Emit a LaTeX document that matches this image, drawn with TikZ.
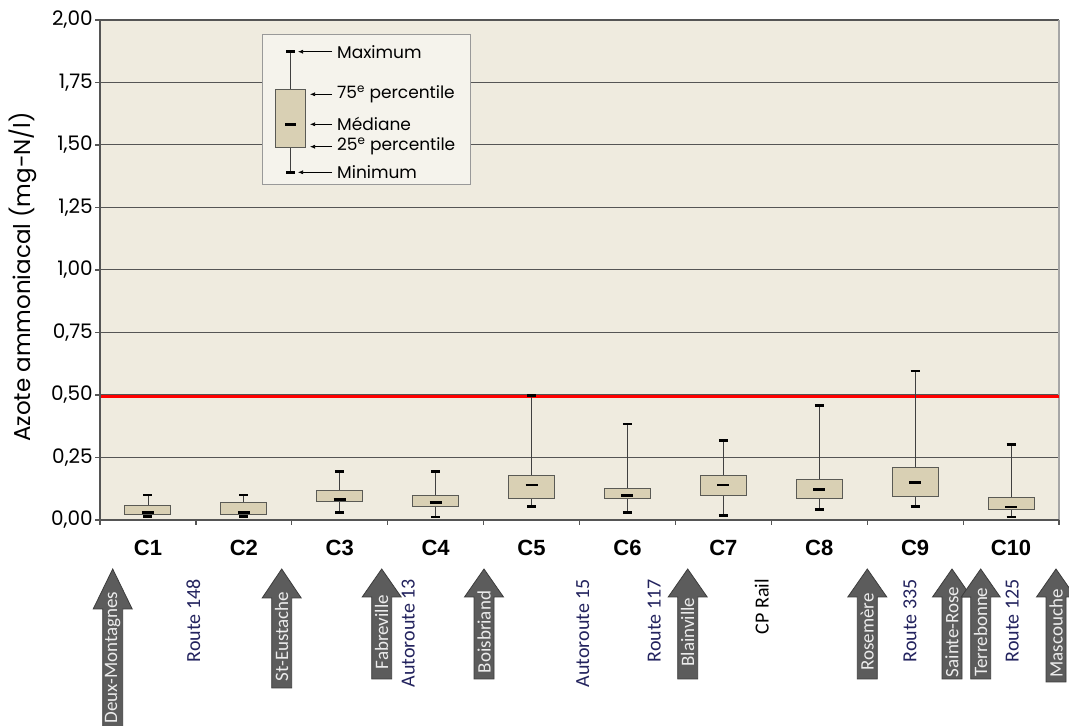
\documentclass[tikz,border=0pt]{standalone}
\usepackage{fontspec}
\usetikzlibrary{arrows.meta}
\newfontfamily\chartfont{Poppins}
\newfontfamily\catfont{Liberation Sans}
\newfontfamily\townfont{Carlito}

\definecolor{plotbg}{HTML}{EFEBDF}
\definecolor{boxfill}{HTML}{D9D0B4}
\definecolor{boxedge}{HTML}{5A5A55}
\definecolor{gridgray}{HTML}{555555}
\definecolor{arrowgray}{HTML}{5C5C5C}
\definecolor{arrowedge}{HTML}{3C3C3C}
\definecolor{routenavy}{HTML}{23235E}
\definecolor{legendbg}{HTML}{F5F3EC}

\tikzset{
  gridline/.style={gridgray, line width=1pt},
  axisline/.style={gridgray, line width=1.2pt},
  limitline/.style={red, line width=3pt},
  whisker/.style={black!75, line width=0.9pt},
  boxbody/.style={fill=boxfill, draw=boxedge, line width=1pt},
  whiskercap/.style={black, line width=2.6pt},
  medianbar/.style={black, line width=2.6pt},
  ticklabel/.style={font=\chartfont\fontsize{20}{20}\selectfont, anchor=east, inner sep=0pt},
  axislabel/.style={font=\chartfont\fontsize{23}{23}\selectfont, rotate=90, inner sep=0pt},
  catlabel/.style={font=\catfont\bfseries\fontsize{22}{22}\selectfont, inner sep=0pt},
  legendtext/.style={font=\chartfont\fontsize{17}{17}\selectfont, anchor=west, inner sep=0pt},
  legendarrow/.style={-{Latex[length=5pt,width=4pt]}, black, line width=0.6pt},
  townarrow/.style={fill=arrowgray, draw=arrowedge, line width=0.8pt},
  towntext/.style={font=\townfont\fontsize{19}{19}\selectfont, text=gray!15, rotate=90, inner sep=0pt},
  roadtext/.style={font=\townfont\fontsize{20}{20}\selectfont, text=routenavy, rotate=90, anchor=east, inner sep=0pt}
}

% box plot of one station: #1 = station, #2 = min, #3 = q1, #4 = median, #5 = q3, #6 = max
\newcommand{\drawBox}[6]{%
  \draw[whisker] (#1-0.5,#2) -- (#1-0.5,#6);
  \filldraw[boxbody] (#1-0.74,#3) rectangle (#1-0.26,#5);
  \draw[whiskercap] (#1-0.547,#2) -- (#1-0.453,#2);
  \draw[whiskercap] (#1-0.547,#6) -- (#1-0.453,#6);
  \draw[medianbar] (#1-0.563,#4) -- (#1-0.437,#4);
}

% town arrow: #1 = name, #2 = x centre, #3 = base of head, #4 = bottom, #5 = town
\newcommand{\townArrow}[5]{%
  \filldraw[townarrow] (#2-10,#4) -- (#2-10,#3) -- (#2-19.5,#3) -- (#2,157)
    -- (#2+19.5,#3) -- (#2+10,#3) -- (#2+10,#4) -- cycle;
  \node[towntext] (#1) at (#2,{(157+#4)/2-8}) {#5};
}

\begin{document}
\begin{tikzpicture}[x=1pt, y=1pt]
  \useasboundingbox (0,0) rectangle (1069,726);
  \clip (0,0) rectangle (1069,726);
  \fill[white] (0,0) rectangle (1069,726);

  % plot area, one unit per station and 1 mg-N/l
  \begin{scope}[shift={(100,206)}, x=95.9pt, y=250pt]
    \fill[plotbg] (0,0) rectangle (10,2);
    \foreach \v in {0.25,0.5,...,1.75}
      \draw[gridline] (0,\v) -- (10,\v);
    \draw[axisline] (0,2) -- (10,2);
    \draw[gray!70, line width=2pt] (10,0) -- (10,2);

    % criterion
    \draw[limitline] (0,0.492) -- (10,0.492);

    % boxes
    \drawBox{1}{0.013}{0.020}{0.031}{0.057}{0.100}
    \drawBox{2}{0.013}{0.020}{0.031}{0.069}{0.100}
    \drawBox{3}{0.031}{0.072}{0.083}{0.116}{0.193}
    \drawBox{4}{0.012}{0.053}{0.071}{0.097}{0.193}
    \drawBox{5}{0.053}{0.087}{0.140}{0.177}{0.497}
    \drawBox{6}{0.029}{0.084}{0.099}{0.127}{0.384}
    \drawBox{7}{0.019}{0.099}{0.140}{0.177}{0.319}
    \drawBox{8}{0.041}{0.085}{0.123}{0.163}{0.459}
    \drawBox{9}{0.053}{0.095}{0.151}{0.208}{0.596}
    \drawBox{10}{0.012}{0.043}{0.052}{0.091}{0.301}

    % axes
    \draw[axisline] (0,0) -- (0,2);
    \draw[axisline] (0,0) -- (10,0);
    \foreach \v/\lab in {0/{0,00},0.25/{0,25},0.5/{0,50},0.75/{0,75},1/{1,00},
                         1.25/{1,25},1.5/{1,50},1.75/{1,75},2/{2,00}} {
      \draw[axisline] (0,\v) -- ++(-5pt,0);
      \node[ticklabel] (t\lab) at (0,\v) [xshift=-7pt] {\lab};
    }
    \foreach \i in {0,...,10}
      \draw[axisline] (\i,0) -- ++(0,-5pt);
    \foreach \i in {1,...,10}
      \node[catlabel] (c\i) at ({\i-0.5},-0.112) {C\i};
  \end{scope}

  \node[axislabel] (ylab) at (23,449) {Azote ammoniacal (mg-N/l)};

  % legend
  \filldraw[fill=legendbg, draw=gray!80, line width=1pt] (262.7,541) rectangle (470.7,691);
  \draw[whisker] (290.7,553.7) -- (290.7,674.3);
  \filldraw[boxbody] (275.7,578.7) rectangle (305,636.7);
  \draw[whiskercap] (286.2,674.3) -- (295.2,674.3);
  \draw[whiskercap] (286.2,553.7) -- (295.2,553.7);
  \draw[medianbar] (285,601.7) -- (296.4,601.7);
  \coordinate (kmax) at (298,674.3);
  \coordinate (kq3) at (310,631.7);
  \coordinate (kmed) at (310,601.7);
  \coordinate (kq1) at (310,579.3);
  \coordinate (kmin) at (298,553.7);
  \node[legendtext] (lmax) at (337,674.3) {Maximum};
  \node[legendtext] (lq3) at (337,631.7) {75\textsuperscript{e} percentile};
  \node[legendtext] (lmed) at (337,601.7) {Médiane};
  \node[legendtext] (lq1) at (337,579.3) {25\textsuperscript{e} percentile};
  \node[legendtext] (lmin) at (337,553.7) {Minimum};
  \foreach \k in {max,q3,med,q1,min}
    \draw[legendarrow] ([xshift=-5pt]l\k.west) -- (k\k);

  % towns
  \townArrow{deux}{112.7}{117}{-4}{Deux-Montagnes}
  \townArrow{eust}{281.7}{128}{38}{St-Eustache}
  \townArrow{fabr}{381.7}{129}{47}{Fabreville}
  \townArrow{bois}{484}{129}{47}{Boisbriand}
  \townArrow{blai}{687.7}{129}{47}{Blainville}
  \townArrow{rose}{867.3}{129}{47}{Rosemère}
  \townArrow{srose}{952}{129}{47}{Sainte-Rose}
  \townArrow{terr}{980.7}{129}{47}{Terrebonne}
  \townArrow{masc}{1056}{129}{44}{Mascouche}

  % roads
  \node[roadtext] (r148) at (193.3,147) {Route 148};
  \node[roadtext] (a13) at (408.3,147) {Autoroute 13};
  \node[roadtext] (a15) at (582.7,147) {Autoroute 15};
  \node[roadtext] (r117) at (654.3,147) {Route 117};
  \node[roadtext, text=black] (cprail) at (761.7,147) {CP Rail};
  \node[roadtext] (r335) at (910,147) {Route 335};
  \node[roadtext] (r125) at (1012.3,147) {Route 125};
\end{tikzpicture}
\end{document}
